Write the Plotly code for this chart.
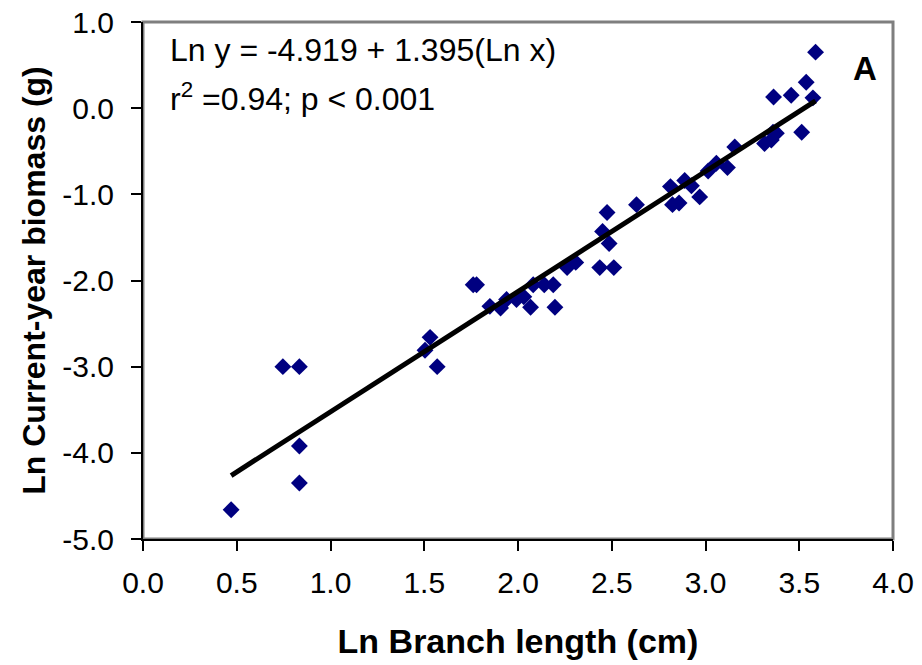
import plotly.graph_objects as go

# Data
ln_branch_length = [0.470, 0.746, 0.834, 0.834, 0.834, 1.504, 1.531, 1.569,
                    1.761, 1.779, 1.850, 1.907, 1.939, 1.992, 2.031, 2.067,
                    2.081, 2.140, 2.188, 2.197, 2.262, 2.308, 2.436, 2.511,
                    2.451, 2.475, 2.486, 2.632, 2.813, 2.824, 2.859, 2.889,
                    2.925, 2.969, 3.014, 3.058, 3.117, 3.156, 3.315, 3.351,
                    3.360, 3.378, 3.513, 3.363, 3.457, 3.537, 3.573, 3.587]
ln_biomass = [-4.66, -3.00, -3.00, -3.92, -4.35, -2.81, -2.66, -3.00,
              -2.05, -2.05, -2.30, -2.32, -2.22, -2.22, -2.19, -2.31,
              -2.05, -2.05, -2.05, -2.31, -1.85, -1.79, -1.85, -1.85,
              -1.43, -1.21, -1.57, -1.12, -0.91, -1.12, -1.10, -0.84,
              -0.90, -1.03, -0.73, -0.64, -0.69, -0.45, -0.41, -0.37,
              -0.28, -0.29, -0.28, 0.13, 0.15, 0.30, 0.12, 0.65]

intercept = -4.919
slope = 1.395

x_tick_vals = [0.0, 0.5, 1.0, 1.5, 2.0, 2.5, 3.0, 3.5, 4.0]
x_tick_text = ["0.0", "0.5", "1.0", "1.5", "2.0", "2.5", "3.0", "3.5", "4.0"]
y_tick_vals = [1.0, 0.0, -1.0, -2.0, -3.0, -4.0, -5.0]
y_tick_text = ["1.0", "0.0", "-1.0", "-2.0", "-3.0", "-4.0", "-5.0"]

x_min = min(ln_branch_length)
x_max = max(ln_branch_length)
fit_x = [x_min, x_max]
fit_y = [intercept + slope * v for v in fit_x]

FONT = "Liberation Sans, Arial, sans-serif"
X_RANGE = [0, 4]
Y_RANGE = [-5, 1]

fig = go.Figure()
fig.add_trace(go.Scatter(
    x=ln_branch_length, y=ln_biomass, mode="markers",
    marker=dict(symbol="diamond", size=13, color="#000080",
                line=dict(width=0)),
    showlegend=False, cliponaxis=False))
fig.add_trace(go.Scatter(
    x=fit_x, y=fit_y, mode="lines",
    line=dict(color="black", width=5),
    showlegend=False, cliponaxis=False))

# page body adds an 8px offset; figure sized to fit the 922x665 window
fig.update_layout(
    width=914, height=657,
    margin=dict(l=135, r=29, t=14, b=126, autoexpand=False),
    paper_bgcolor="white", plot_bgcolor="white",
    font=dict(family=FONT, color="black", size=30),
    xaxis=dict(range=X_RANGE, tickvals=x_tick_vals, ticktext=x_tick_text,
               automargin=False, ticklabeloverflow="allow",
               showgrid=False, zeroline=False, showline=True,
               linecolor="black", linewidth=2, ticks="outside",
               ticklen=10, tickwidth=2, tickcolor="black",
               tickfont=dict(size=30), ticklabelstandoff=6,
               title=dict(text="<b>Ln Branch length (cm)</b>",
                          font=dict(size=34), standoff=31)),
    yaxis=dict(range=Y_RANGE, tickvals=y_tick_vals, ticktext=y_tick_text,
               automargin=False, ticklabeloverflow="allow",
               showgrid=False, zeroline=False, showline=True,
               linecolor="black", linewidth=2, ticks="outside",
               ticklen=10, tickwidth=2, tickcolor="black",
               tickfont=dict(size=30), ticklabelstandoff=11,
               title=dict(text="<b>Ln Current-year biomass (g)</b>",
                          font=dict(size=32), standoff=7)),
    shapes=[
        dict(type="rect", xref="paper", yref="paper", x0=0, x1=1, y0=0, y1=1,
             layer="below", fillcolor="rgba(0,0,0,0)",
             line=dict(color="#7f7f7f", width=3)),
    ],
    annotations=[
        dict(text="Ln y = -4.919 + 1.395(Ln x)", xref="paper", yref="paper",
             x=0.033, y=0.946, xanchor="left", yanchor="middle",
             showarrow=False, font=dict(size=32)),
        dict(text="r<sup>2</sup> =0.94; p &lt; 0.001", xref="paper", yref="paper",
             x=0.033, y=0.855, xanchor="left", yanchor="middle",
             showarrow=False, font=dict(size=32)),
        dict(text="<b>A</b>", xref="paper", yref="paper",
             x=0.963, y=0.911, xanchor="center", yanchor="middle",
             showarrow=False, font=dict(size=33)),
    ],
)

fig.write_html("out.html")
